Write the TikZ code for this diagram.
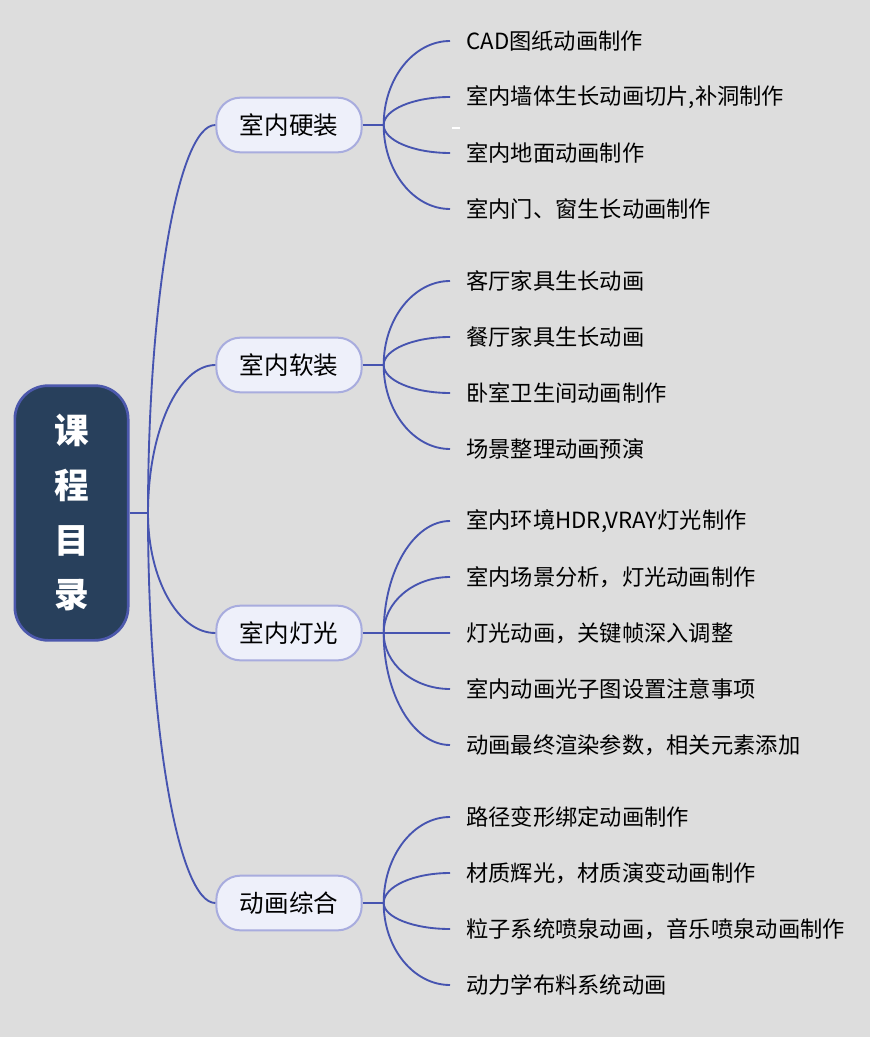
\documentclass[tikz,border=0pt]{standalone}
\usepackage{fontspec}
\setmainfont{Noto Sans CJK SC}
\usetikzlibrary{positioning,calc}
\definecolor{MapBg}{RGB}{221,221,221}
\definecolor{MapNavy}{RGB}{40,64,92}
\definecolor{MapEdge}{RGB}{76,88,172}
\definecolor{MapLine}{RGB}{70,84,176}
\definecolor{MapLav}{RGB}{238,240,250}
\definecolor{MapLavLine}{RGB}{168,172,222}
% quarter-ellipse branch from #1 to #2
\newcommand{\maparc}[2]{\draw[link] (#1) .. controls ($(#1)!0.55!(#1 |- #2)$) and ($(#2)!0.55!(#1 |- #2)$) .. (#2);}

\begin{document}
\begin{tikzpicture}[x=0.75pt,y=-0.75pt,
    rootbox/.style={draw=MapEdge, fill=MapNavy, line width=2pt, rounded corners=25pt,
      minimum width=85pt, minimum height=191pt, text=white, align=center,
      font=\fontsize{26}{41}\selectfont\bfseries},
    topicbox/.style={draw=MapLavLine, fill=MapLav, line width=1.5pt, rounded corners=18pt,
      minimum width=109pt, minimum height=41pt, font=\fontsize{18.4}{22}\selectfont},
    leaf/.style={anchor=west, inner xsep=12pt, font=\fontsize{16.7}{20}\selectfont},
    link/.style={draw=MapLine, line width=1.4pt}
  ]
    \fill[MapBg] (0,0) rectangle (870,1037);
    % root and topics
    \node[rootbox] (root) at (71.5,513) {课\\程\\目\\录};
    \node[topicbox] (hard) at (289,125) {室内硬装};
    \node[topicbox] (soft) at (289,365) {室内软装};
    \node[topicbox] (light) at (289,633) {室内灯光};
    \node[topicbox] (anim) at (289,903) {动画综合};
    \coordinate (rootj) at (148,513);
    \draw[link] (root.east) -- (rootj);
    \foreach \t in {hard,soft,light,anim} {
      \maparc{rootj}{\t.west}
      \coordinate (\t j) at ($(\t.east)+(21,0)$);
      \draw[link] (\t.east) -- (\t j);
    }
    % leaves
    \foreach \txt [count=\i] in {CAD图纸动画制作, {室内墙体生长动画切片,补洞制作}, 室内地面动画制作, 室内门、窗生长动画制作} {
      \node[leaf] (hard\i) at (450,{41+56*(\i-1)}) {\txt};
      \maparc{hardj}{hard\i.west}
    }
    \foreach \txt [count=\i] in {客厅家具生长动画, 餐厅家具生长动画, 卧室卫生间动画制作, 场景整理动画预演} {
      \node[leaf] (soft\i) at (450,{281+56*(\i-1)}) {\txt};
      \maparc{softj}{soft\i.west}
    }
    \foreach \txt [count=\i] in {{室内环境HDR,VRAY灯光制作}, 室内场景分析，灯光动画制作, 灯光动画，关键帧深入调整, 室内动画光子图设置注意事项, 动画最终渲染参数，相关元素添加} {
      \node[leaf] (light\i) at (450,{521+56*(\i-1)}) {\txt};
      \maparc{lightj}{light\i.west}
    }
    \foreach \txt [count=\i] in {路径变形绑定动画制作, 材质辉光，材质演变动画制作, 粒子系统喷泉动画，音乐喷泉动画制作, 动力学布料系统动画} {
      \node[leaf] (anim\i) at (450,{817+56*(\i-1)}) {\txt};
      \maparc{animj}{anim\i.west}
    }
    \draw[white, line width=1pt] (452,128) -- (460,128);
\end{tikzpicture}
\end{document}
